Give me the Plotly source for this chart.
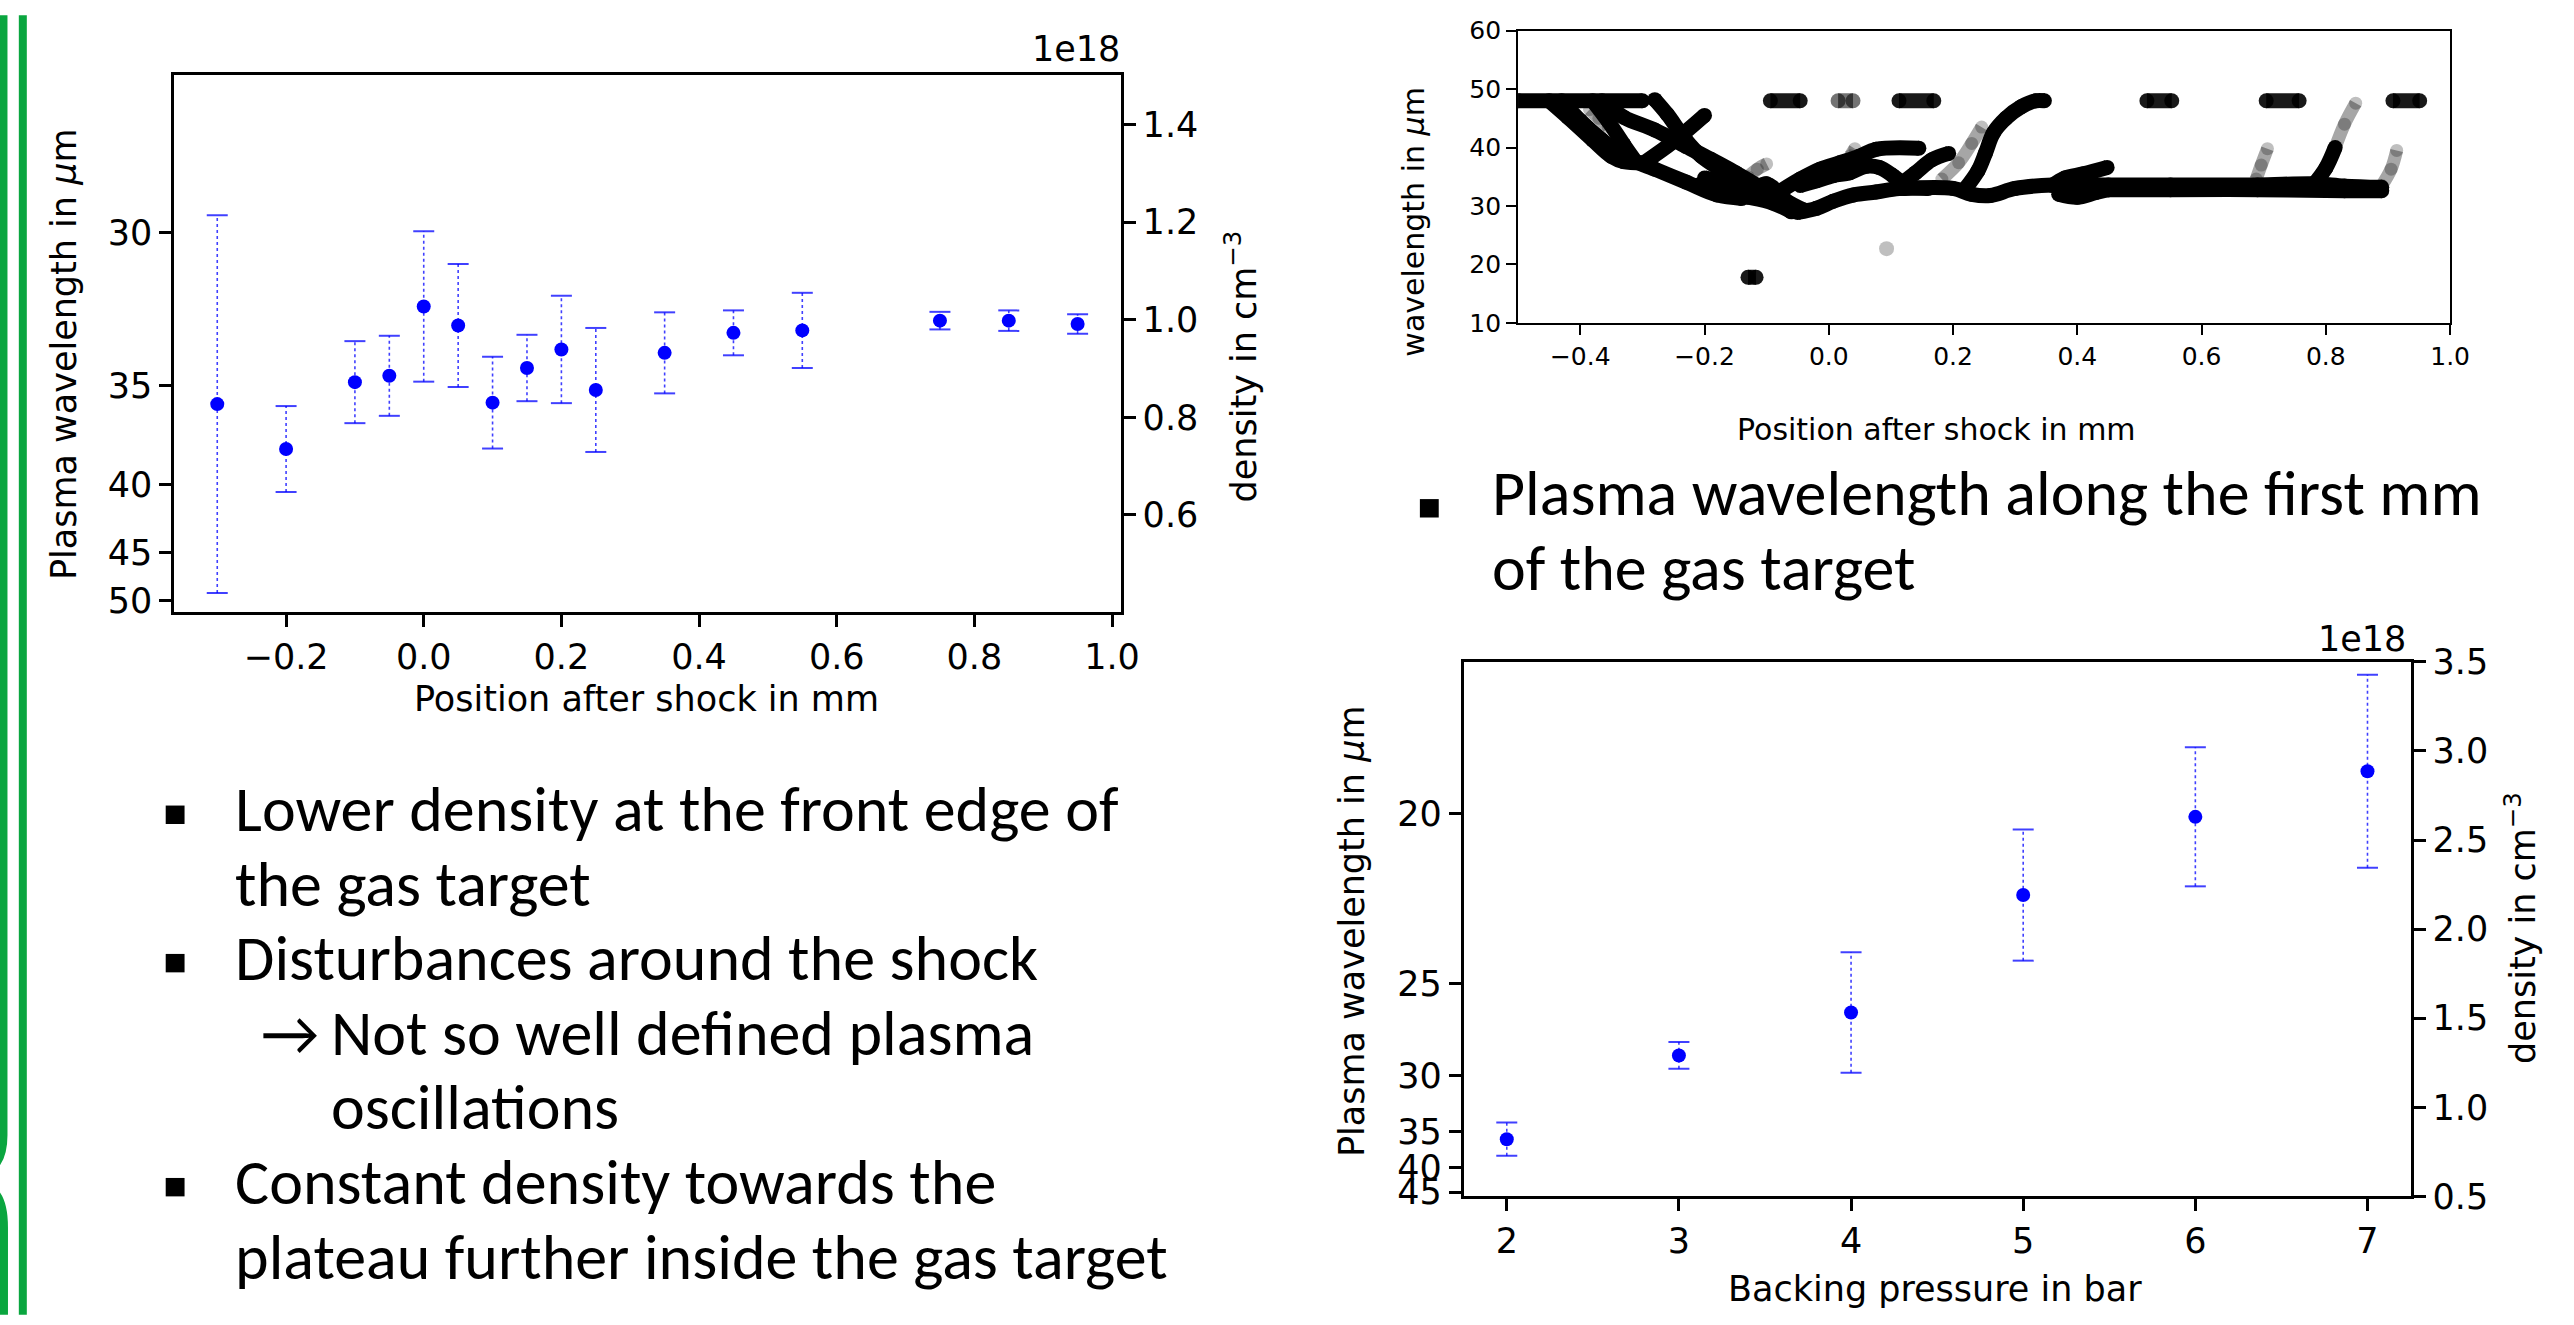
import plotly.graph_objects as go

W, H = 2574, 1325


def px(x):
    return x / W


def py(y):
    return 1 - y / H


# ---------------- data: chart 1 (density along the target) ----------------
POS_MM = [-0.3, -0.2, -0.1, -0.05, 0.0, 0.05, 0.1, 0.15, 0.2, 0.25, 0.35, 0.45, 0.55, 0.75, 0.85, 0.95]
DENSITY_1 = [0.827, 0.735, 0.872, 0.885, 1.027, 0.988, 0.830, 0.901, 0.939, 0.856, 0.932, 0.973, 0.978, 0.998, 0.998, 0.991]
DENSITY_1_ERR = [0.387, 0.088, 0.084, 0.082, 0.154, 0.126, 0.094, 0.068, 0.110, 0.127, 0.083, 0.046, 0.077, 0.018, 0.021, 0.020]
X_TICKS_1 = [-0.2, 0.0, 0.2, 0.4, 0.6, 0.8, 1.0]
DENS_TICKS_1 = [0.6, 0.8, 1.0, 1.2, 1.4]
WL_TICKS_1 = [30, 35, 40, 45, 50]

# ---------------- data: chart 3 (backing pressure scan) ----------------
PRESSURE_BAR = [2, 3, 4, 5, 6, 7]
DENSITY_3 = [0.821, 1.291, 1.532, 2.191, 2.630, 2.886]
DENSITY_3_ERR = [0.093, 0.075, 0.338, 0.368, 0.390, 0.541]
DENS_TICKS_3 = [0.5, 1.0, 1.5, 2.0, 2.5, 3.0, 3.5]
WL_TICKS_3 = [20, 25, 30, 35, 40, 45]

# wavelength^2 * density (um^2 * 1e18 cm^-3) used for the secondary axis
WL_CONST = 1060.0

# ---------------- data: chart 2 (wavelength tracks) ----------------
TRK_FLAT_START = ([-0.50, -0.30], [48.0, 48.0])
TRK_OUTER = ([-0.45, -0.42, -0.38, -0.35, -0.33, -0.29], [48.0, 45.2, 41.3, 38.5, 37.6, 37.4])
TRK_RISE_LEFT = ([-0.30, -0.25, -0.20], [37.2, 41.0, 45.5])
TRK_LOWER = ([-0.43, -0.40, -0.365, -0.33, -0.28, -0.23, -0.18, -0.14], [48.0, 44.6, 41.3, 38.5, 36.3, 34.1, 31.9, 31.3])
TRK_MID = ([-0.365, -0.33, -0.28, -0.23, -0.19, -0.15, -0.115, -0.085, -0.05], [48.0, 45.2, 43.0, 40.2, 38.0, 35.7, 33.5, 31.3, 29.1])
TRK_CROSS = ([-0.38, -0.355, -0.33, -0.31], [48.0, 44.5, 40.5, 37.5])
TRK_STEEP = ([-0.28, -0.26, -0.23, -0.205, -0.175, -0.14, -0.11], [48.2, 45.7, 41.3, 38.5, 36.3, 34.1, 33.0])
TRK_CORE = ([-0.20, -0.16, -0.13, -0.10, -0.07, -0.04], [34.8, 33.8, 32.5, 33.8, 31.0, 29.3])
TRK_CORE_MID = ([-0.21, -0.17, -0.14, -0.11, -0.08], [33.6, 32.9, 32.2, 32.6, 31.8])
TRK_CORE_LOW = ([-0.17, -0.13, -0.09, -0.06], [32.2, 31.5, 30.5, 29.0])
TRK_MIN_RISE = ([-0.05, -0.02, 0.007, 0.04, 0.076, 0.113, 0.16], [28.9, 29.6, 30.8, 31.9, 32.4, 33.0, 33.0])
TRK_UPPER_RISE = ([-0.08, -0.046, -0.014, 0.018, 0.049, 0.076, 0.145], [32.4, 34.6, 36.3, 37.4, 38.5, 39.7, 39.9])
TRK_HUMP = ([-0.046, -0.02, 0.007, 0.034, 0.06, 0.081, 0.103, 0.124], [33.5, 34.3, 35.2, 35.7, 36.8, 36.6, 35.2, 33.5])
TRK_RISE_B = ([0.113, 0.14, 0.166, 0.193], [33.5, 35.7, 37.9, 39.0])
TRK_TO_TOP = ([0.22, 0.24, 0.252, 0.265, 0.285, 0.31, 0.333, 0.347], [33.0, 36.0, 39.0, 42.5, 45.0, 47.0, 48.0, 48.0])
TRK_PLATEAU = ([0.12, 0.20, 0.23, 0.26, 0.30, 0.36, 0.45, 0.55, 0.69, 0.78, 0.83, 0.89],
               [33.0, 33.0, 32.0, 31.8, 33.0, 33.6, 33.6, 33.6, 33.6, 33.8, 33.4, 33.2])
TRK_PLATEAU_LOW = ([0.45, 0.55, 0.69, 0.83, 0.89], [32.8, 32.8, 32.8, 32.6, 32.6])
TRK_LOOP = ([0.36, 0.38, 0.41, 0.448], [33.5, 34.8, 35.5, 36.6])
TRK_LOOP_LOW = ([0.37, 0.40, 0.43, 0.46], [32.0, 31.5, 32.3, 33.0])
TRK_FINAL_RISE = ([0.78, 0.80, 0.815], [33.6, 36.5, 40.0])
TRK_FADE_FINAL = ([0.815, 0.83, 0.848], [40.0, 44.0, 47.6])
TRK_FADE_A = ([0.182, 0.209, 0.23, 0.246], [34.6, 37.4, 40.7, 43.5])
TRK_FADE_B = ([0.688, 0.696, 0.706], [34.6, 37.0, 39.8])
TRK_FADE_C = ([0.89, 0.905, 0.914], [33.5, 36.3, 39.5])
TRK_FADE_D = ([-0.13, -0.115, -0.10], [35.0, 36.3, 37.2])
TRK_FADE_E = ([0.035, 0.042], [38.6, 39.8])
TRK_FADE_F = ([-0.385, -0.37, -0.355], [46.5, 45.0, 43.5])
DASH_START = [-0.094, 0.113, 0.512, 0.704, 0.908, -0.13]
DASH_END = [-0.046, 0.169, 0.552, 0.757, 0.951, -0.117]
DASH_LEVEL = [48.0, 48.0, 48.0, 48.0, 48.0, 17.8]
FADE_DASH_START = [0.015]
FADE_DASH_END = [0.039]
FADE_DASH_LEVEL = [48.0]
FAINT_DOT_X = [0.093]
FAINT_DOT_Y = [22.7]

# ---------------- styling ----------------
BLUE = "#0000ff"
ERR_BLUE = "rgba(0,0,255,0.75)"
FONT = "DejaVu Sans"
SLIDE_FONT = "Carlito, Calibri, Lato, sans-serif"
GREEN = "#0aa63f"

fig = go.Figure()


def add_errorbar(x, d, e, xa, ya):
    lx, ly = [], []
    for xi, di, ei in zip(x, d, e):
        lx += [xi, xi, None]
        ly += [di - ei, di + ei, None]
    fig.add_trace(go.Scatter(x=lx, y=ly, mode="lines", xaxis=xa, yaxis=ya, hoverinfo="skip",
                             line=dict(color=ERR_BLUE, width=1.6, dash="dot")))
    cx = list(x) + list(x)
    cy = [di - ei for di, ei in zip(d, e)] + [di + ei for di, ei in zip(d, e)]
    fig.add_trace(go.Scatter(x=cx, y=cy, mode="markers", xaxis=xa, yaxis=ya, hoverinfo="skip",
                             marker=dict(symbol="line-ew", size=15, color=ERR_BLUE,
                                         line=dict(color=ERR_BLUE, width=2))))
    fig.add_trace(go.Scatter(x=x, y=d, mode="markers", xaxis=xa, yaxis=ya,
                             marker=dict(color=BLUE, size=14, line=dict(width=0))))


# chart 1
add_errorbar(POS_MM, DENSITY_1, DENSITY_1_ERR, "x", "y")
fig.add_trace(go.Scatter(x=POS_MM[:1], y=DENSITY_1[:1], mode="markers", xaxis="x", yaxis="y2",
                         marker=dict(opacity=0), hoverinfo="skip"))
# chart 3
add_errorbar(PRESSURE_BAR, DENSITY_3, DENSITY_3_ERR, "x3", "y4")
fig.add_trace(go.Scatter(x=PRESSURE_BAR[:1], y=DENSITY_3[:1], mode="markers", xaxis="x3", yaxis="y5",
                         marker=dict(opacity=0), hoverinfo="skip"))

# chart 2
TW = 15
black_tracks = [TRK_FLAT_START, TRK_OUTER, TRK_RISE_LEFT, TRK_LOWER, TRK_MID, TRK_CROSS, TRK_STEEP,
                TRK_CORE, TRK_CORE_MID, TRK_CORE_LOW, TRK_MIN_RISE, TRK_UPPER_RISE, TRK_HUMP,
                TRK_RISE_B, TRK_TO_TOP, TRK_PLATEAU, TRK_PLATEAU_LOW, TRK_LOOP, TRK_LOOP_LOW,
                TRK_FINAL_RISE]
fade_tracks = [TRK_FADE_FINAL, TRK_FADE_A, TRK_FADE_B, TRK_FADE_C, TRK_FADE_D, TRK_FADE_E, TRK_FADE_F]
for tx, ty in fade_tracks:
    fig.add_trace(go.Scatter(x=tx, y=ty, mode="lines+markers", xaxis="x2", yaxis="y3", hoverinfo="skip",
                             line=dict(color="rgba(0,0,0,0.35)", width=TW - 2, shape="spline"),
                             marker=dict(color="rgba(0,0,0,0.25)", size=TW - 2, line=dict(width=0))))
for tx, ty in black_tracks:
    fig.add_trace(go.Scatter(x=tx, y=ty, mode="lines+markers", xaxis="x2", yaxis="y3", hoverinfo="skip",
                             line=dict(color="black", width=TW, shape="spline"),
                             marker=dict(color="black", size=TW, line=dict(width=0))))


def dash_trace(x0s, x1s, lv, color):
    dx, dy = [], []
    for a, b, c in zip(x0s, x1s, lv):
        dx += [a, b, None]
        dy += [c, c, None]
    fig.add_trace(go.Scatter(x=dx, y=dy, mode="lines+markers", xaxis="x2", yaxis="y3", hoverinfo="skip",
                             line=dict(color=color, width=TW),
                             marker=dict(color=color, size=TW, line=dict(width=0))))


dash_trace(DASH_START, DASH_END, DASH_LEVEL, "rgba(0,0,0,0.9)")
dash_trace(FADE_DASH_START, FADE_DASH_END, FADE_DASH_LEVEL, "rgba(0,0,0,0.55)")
fig.add_trace(go.Scatter(x=FAINT_DOT_X, y=FAINT_DOT_Y, mode="markers", xaxis="x2", yaxis="y3",
                         marker=dict(color="rgba(0,0,0,0.25)", size=TW, line=dict(width=0)), hoverinfo="skip"))


def ax(size, lw, tl, **kw):
    d = dict(showline=True, linecolor="black", linewidth=lw, ticks="outside", ticklen=tl,
             tickwidth=max(lw - 0.5, 1.5), tickcolor="black", showgrid=False, zeroline=False,
             tickfont=dict(family=FONT, size=size, color="black"))
    d.update(kw)
    return d


wl_pos_1 = [WL_CONST / (w * w) for w in WL_TICKS_1]
wl_pos_3 = [WL_CONST / (w * w) for w in WL_TICKS_3]

fig.update_layout(
    width=W, height=H, margin=dict(l=0, r=0, t=0, b=0),
    paper_bgcolor="white", plot_bgcolor="white", showlegend=False,
    xaxis=ax(35, 3, 12, domain=[px(175.6), px(1129.4)], anchor="y", range=[-0.3625, 1.0125],
             tickvals=X_TICKS_1, tickformat=".1f", mirror=True),
    yaxis=ax(35, 3, 12, domain=[py(610), py(56.8)], anchor="x", side="right", range=[0.402, 1.501],
             tickvals=DENS_TICKS_1, tickformat=".1f"),
    yaxis2=ax(35, 3, 12, overlaying="y", anchor="x", side="left", range=[0.402, 1.501],
              tickvals=wl_pos_1, ticktext=[str(w) for w in WL_TICKS_1]),
    xaxis2=ax(25, 2, 10, domain=[px(1530), px(2469.3)], anchor="y3", range=[-0.5, 1.0],
              tickvals=[-0.4, -0.2, 0.0, 0.2, 0.4, 0.6, 0.8, 1.0], tickformat=".1f", mirror=True),
    yaxis3=ax(25, 2, 10, domain=[py(312.3), py(11)], anchor="x2", range=[10, 60],
              tickvals=[10, 20, 30, 40, 50, 60], mirror=True),
    xaxis3=ax(35, 3, 12, domain=[px(1475.2), px(2429.4)], anchor="y4", range=[1.75, 7.25],
              tickvals=PRESSURE_BAR, mirror=True),
    yaxis4=ax(35, 3, 12, domain=[py(1213), py(661.8)], anchor="x3", side="right", range=[0.5, 3.5],
              tickvals=DENS_TICKS_3, tickformat=".1f"),
    yaxis5=ax(35, 3, 12, overlaying="y4", anchor="x3", side="left", range=[0.5, 3.5],
              tickvals=wl_pos_3, ticktext=[str(w) for w in WL_TICKS_3]),
)

ann = []


def label(text, x, y, size, angle=0, xanchor="center", yanchor="middle", family=FONT):
    ann.append(dict(text=text, x=px(x), y=py(y), xref="paper", yref="paper", showarrow=False,
                    xanchor=xanchor, yanchor=yanchor, textangle=angle,
                    font=dict(family=family, size=size, color="black")))


# chart 1 titles
label("Position after shock in mm", 652, 700, 35)
label("Plasma wavelength in <i>μ</i>m", 64, 345, 35, angle=-90)
label("density in cm<sup>−3</sup>", 1251, 357, 35, angle=-90)
label("1e18", 1131, 30, 35, xanchor="right")
# chart 2 titles
label("Position after shock in mm", 1952, 422, 30)
label("wavelength in <i>μ</i>m", 1425, 208, 30, angle=-90)
# chart 3 titles
label("Backing pressure in bar", 1950, 1308, 35)
label("Plasma wavelength in <i>μ</i>m", 1362, 939, 35, angle=-90)
label("density in cm<sup>−3</sup>", 2540, 936, 35, angle=-90)
label("1e18", 2427, 638, 35, xanchor="right")

# slide bullet text
SFS = 64


def bline(text, x, baseline):
    label(text, x, baseline + 0.21 * SFS + 1, SFS, xanchor="left", yanchor="bottom", family=SLIDE_FONT)


bline("Lower density at the front edge of", 235, 841.6)
bline("the gas target", 235, 918.8)
bline("Disturbances around the shock", 235, 995.3)
bline("→", 261, 1072)
bline("Not so well defined plasma", 332, 1072)
bline("oscillations", 332, 1148.6)
bline("Constant density towards the", 235, 1225.8)
bline("plateau further inside the gas target", 235, 1303)
bline("Plasma wavelength along the first mm", 1502, 516)
bline("of the gas target", 1502, 593)

shapes = []
for (x0, y0) in [(167, 810), (167, 963), (167, 1194), (1431, 494)]:
    shapes.append(dict(type="rect", xref="paper", yref="paper", x0=px(x0), x1=px(x0 + 19),
                       y0=py(y0 + 19), y1=py(y0), fillcolor="black", line=dict(width=0)))


def ppath(points):
    s = ""
    for cmd, pts in points:
        s += cmd + " " + " ".join(f"{px(a):.6f},{py(b):.6f}" for a, b in pts) + " "
    return s.strip()


shapes.append(dict(type="path", xref="paper", yref="paper", line=dict(color=GREEN, width=8),
                   path=ppath([("M", [(3.5, -5)]), ("L", [(3.5, 1150)]), ("Q", [(3.5, 1172), (-6, 1182)])])))
shapes.append(dict(type="path", xref="paper", yref="paper", line=dict(color=GREEN, width=8),
                   path=ppath([("M", [(-6, 1208)]), ("Q", [(4, 1218), (4, 1245)]), ("L", [(4, 1335)])])))
shapes.append(dict(type="line", xref="paper", yref="paper", x0=px(23), x1=px(23), y0=py(-5), y1=py(1335),
                   line=dict(color=GREEN, width=8)))

fig.update_layout(annotations=ann, shapes=shapes)
fig.write_html("out.html")
